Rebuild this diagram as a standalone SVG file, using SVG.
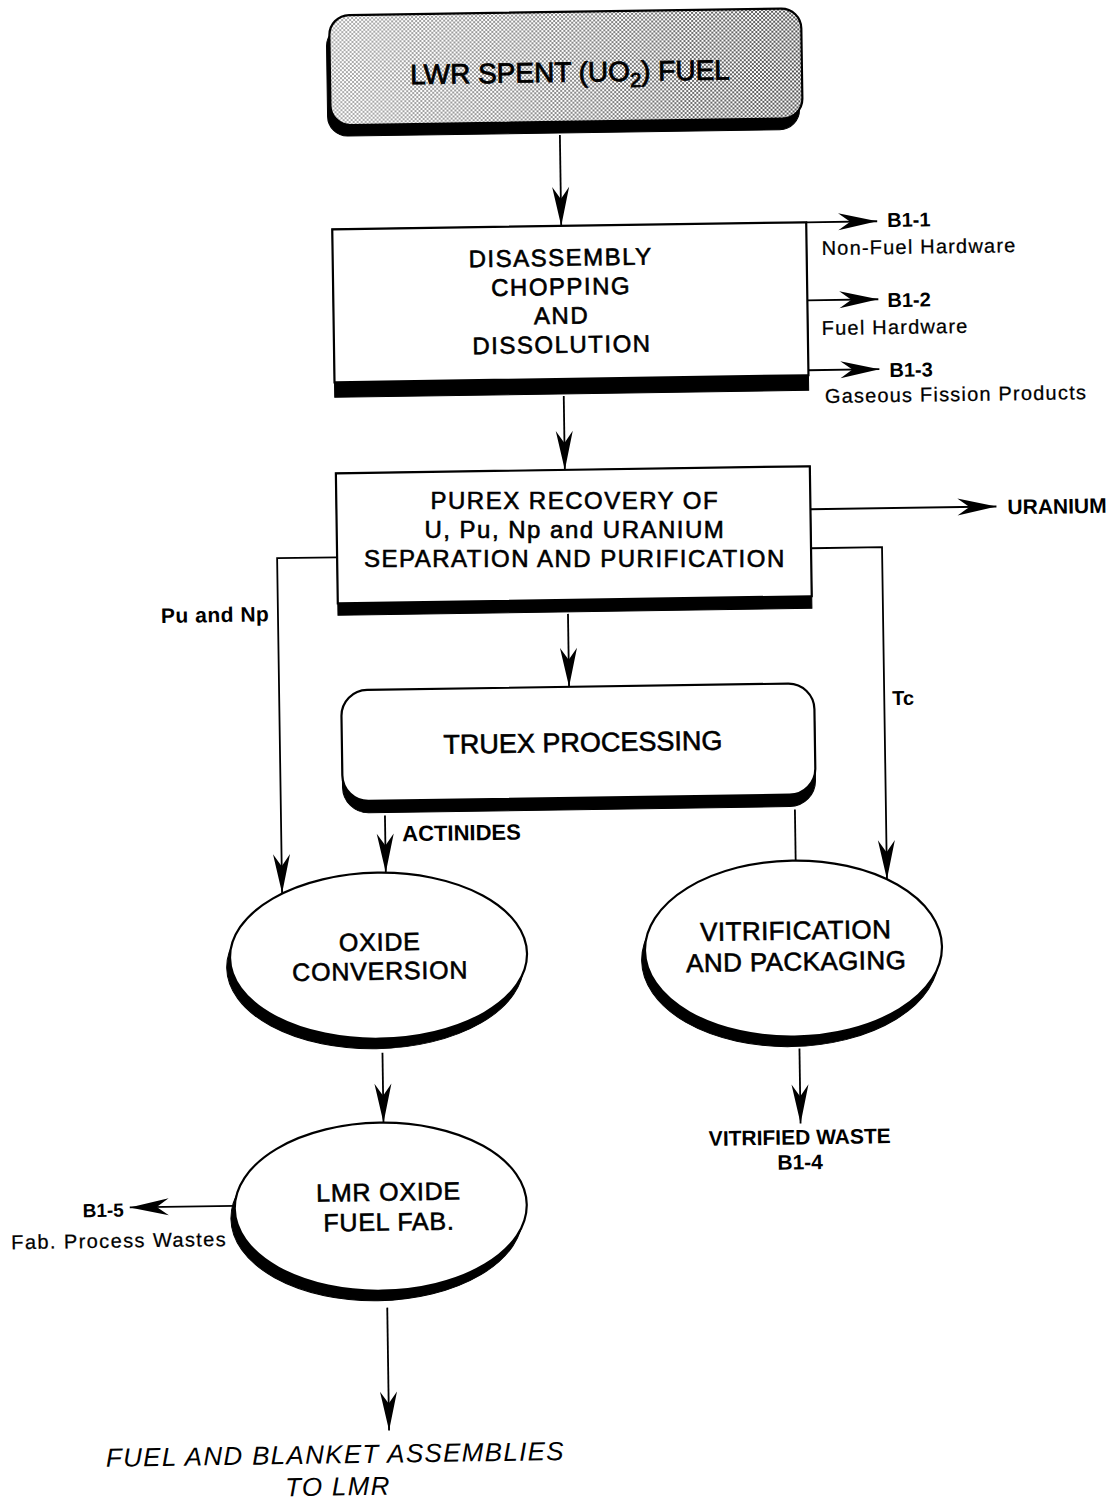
<svg xmlns="http://www.w3.org/2000/svg" width="1118" height="1505" viewBox="0 0 1118 1505">
<defs>
<style>
.box{fill:#fff;stroke:#000;stroke-width:2.2}
.shadow{fill:#000;stroke:#000;stroke-width:1}
.conn{fill:none;stroke:#000;stroke-width:1.8}
.arr{marker-end:url(#ah)}
.lbl{font-family:"Liberation Sans",Arial,Helvetica,sans-serif;font-size:25px;letter-spacing:0.8px;text-anchor:middle;fill:#000;stroke:#000;stroke-width:0.6}
.side{font-family:"Liberation Sans",Arial,Helvetica,sans-serif;font-size:20px;letter-spacing:1.2px;fill:#000;stroke:#000;stroke-width:0.25}
.tag{font-family:"Liberation Sans",Arial,Helvetica,sans-serif;font-size:20px;font-weight:bold;fill:#000}
.final{font-family:"Liberation Sans",Arial,Helvetica,sans-serif;font-size:26px;letter-spacing:1.3px;font-style:italic;text-anchor:middle;fill:#000}
</style>
<marker id="ah" viewBox="-41 -10 43 20" refX="0" refY="0" markerWidth="43" markerHeight="20" markerUnits="userSpaceOnUse" orient="auto">
<path d="M0,0 L-39,-8.5 L-27,0 L-39,8.5 Z" fill="#000"/>
</marker>
<pattern id="dots" width="4" height="4" patternUnits="userSpaceOnUse">
<rect width="4" height="4" fill="#fff"/>
<circle cx="1" cy="1" r="0.95" fill="#000"/>
<circle cx="3" cy="3" r="0.95" fill="#000"/>
</pattern>
<linearGradient id="fade" x1="0" y1="0" x2="1" y2="0">
<stop offset="0" stop-color="#fff" stop-opacity="0.55"/>
<stop offset="0.5" stop-color="#fff" stop-opacity="0.35"/>
<stop offset="1" stop-color="#fff" stop-opacity="0.05"/>
</linearGradient>
</defs>
<rect width="1118" height="1505" fill="#fff"/>
<g transform="rotate(-0.85 560 750)">

<g id="node-lwr-spent-fuel">
<rect class="shadow" x="337" y="23" width="472" height="110" rx="20"/>
<rect x="340" y="12" width="472" height="110" rx="20" fill="url(#dots)"/>
<rect x="340" y="12" width="472" height="110" rx="20" fill="url(#fade)" stroke="#000" stroke-width="2.2"/>
<text class="lbl" x="580" y="82" style="font-size:28px;letter-spacing:0;stroke-width:0.8">LWR SPENT (UO<tspan font-size="20" dy="6">2</tspan><tspan dy="-6">) FUEL</tspan></text>
</g>

<g id="node-disassembly">
<rect class="shadow" x="340" y="226" width="474" height="168"/>
<rect class="box" x="340" y="226" width="474" height="153"/>
<text class="lbl" x="568" style="font-size:24px;letter-spacing:1.5px"><tspan x="568" y="266">DISASSEMBLY</tspan><tspan x="568" y="295">CHOPPING</tspan><tspan x="568" y="324">AND</tspan><tspan x="568" y="353">DISSOLUTION</tspan></text>
</g>

<g id="node-purex">
<rect class="shadow" x="340" y="470" width="474" height="142"/>
<rect class="box" x="340" y="470" width="474" height="130"/>
<text class="lbl" x="578" transform="rotate(0.85 578 538)" style="font-size:24px;letter-spacing:1.5px"><tspan x="578" y="509">PUREX RECOVERY OF</tspan><tspan x="578" y="538">U, Pu, Np and URANIUM</tspan><tspan x="578" y="567">SEPARATION AND PURIFICATION</tspan></text>
</g>

<g id="node-truex">
<rect class="shadow" x="342" y="699" width="473" height="111" rx="26"/>
<rect class="box" x="342" y="687" width="473" height="111" rx="26"/>
<text class="lbl" x="583" y="752" style="font-size:27px;letter-spacing:0">TRUEX PROCESSING</text>
</g>

<g id="node-oxide-conversion">
<ellipse class="shadow" cx="372" cy="963" rx="148.5" ry="83"/>
<ellipse class="box" cx="375.5" cy="953" rx="148.5" ry="83"/>
<text class="lbl" x="377"><tspan x="377" y="948">OXIDE</tspan><tspan x="377" y="977">CONVERSION</tspan></text>
</g>

<g id="node-vitrification">
<ellipse class="shadow" cx="787" cy="962" rx="148.5" ry="88"/>
<ellipse class="box" cx="790.5" cy="952" rx="148.5" ry="88"/>
<text class="lbl" x="793" style="font-size:26px;letter-spacing:0.4px"><tspan x="793" y="943">VITRIFICATION</tspan><tspan x="793" y="974">AND PACKAGING</tspan></text>
</g>

<g id="node-lmr-fuel-fab">
<ellipse class="shadow" cx="370" cy="1214" rx="146" ry="84"/>
<ellipse class="box" cx="374" cy="1204" rx="146" ry="84"/>
<text class="lbl" x="382"><tspan x="382" y="1198">LMR OXIDE</tspan><tspan x="382" y="1228">FUEL FAB.</tspan></text>
</g>

<g id="connectors">
<path class="conn arr" d="M569,135 V226"/>
<path class="conn arr" d="M814,226 H885"/>
<path class="conn arr" d="M814,304 H885"/>
<path class="conn arr" d="M814,374 H885"/>
<path class="conn arr" d="M569,396 V470"/>
<path class="conn arr" d="M814,513 H1000"/>
<path class="conn arr" d="M814,552 H885 V884"/>
<path class="conn arr" d="M340,554 H280 V889"/>
<path class="conn arr" d="M570,614 V687"/>
<path class="conn arr" d="M384,813 V870"/>
<path class="conn" d="M794,813 V864"/>
<path class="conn arr" d="M378,1050 V1120"/>
<path class="conn arr" d="M795,1052 V1127"/>
<path class="conn arr" d="M228,1201 H123"/>
<path class="conn arr" d="M379,1305 V1428"/>
</g>

<g id="out-b1-1">
<text class="tag" x="895" y="232">B1-1</text>
<text class="side" x="829" y="259">Non-Fuel Hardware</text>
</g>
<g id="out-b1-2">
<text class="tag" x="894" y="312">B1-2</text>
<text class="side" x="828" y="339">Fuel Hardware</text>
</g>
<g id="out-b1-3">
<text class="tag" x="895" y="382">B1-3</text>
<text class="side" x="830" y="407">Gaseous Fission Products</text>
</g>
<g id="out-uranium">
<text class="tag" x="1011" y="521" style="font-size:21px">URANIUM</text>
</g>
<g id="label-pu-np">
<text class="tag" x="163" y="617" style="font-size:21px;letter-spacing:0.5px">Pu and Np</text>
</g>
<g id="label-tc">
<text class="tag" x="893" y="710">Tc</text>
</g>
<g id="label-actinides">
<text class="tag" x="401" y="839" style="font-size:22px">ACTINIDES</text>
</g>
<g id="out-vitrified-waste">
<text class="tag" x="794" y="1148" text-anchor="middle" style="font-size:21px">VITRIFIED WASTE</text>
<text class="tag" x="794" y="1173" text-anchor="middle" style="font-size:21px">B1-4</text>
</g>
<g id="out-b1-5">
<text class="tag" x="117" y="1210" text-anchor="end" style="font-size:19px">B1-5</text>
<text class="side" x="4" y="1241" style="letter-spacing:1.4px">Fab. Process Wastes</text>
</g>
<g id="out-lmr">
<text class="final" x="325" y="1460">FUEL AND BLANKET ASSEMBLIES</text>
<text class="final" x="327" y="1492">TO LMR</text>
</g>
</g>
</svg>
